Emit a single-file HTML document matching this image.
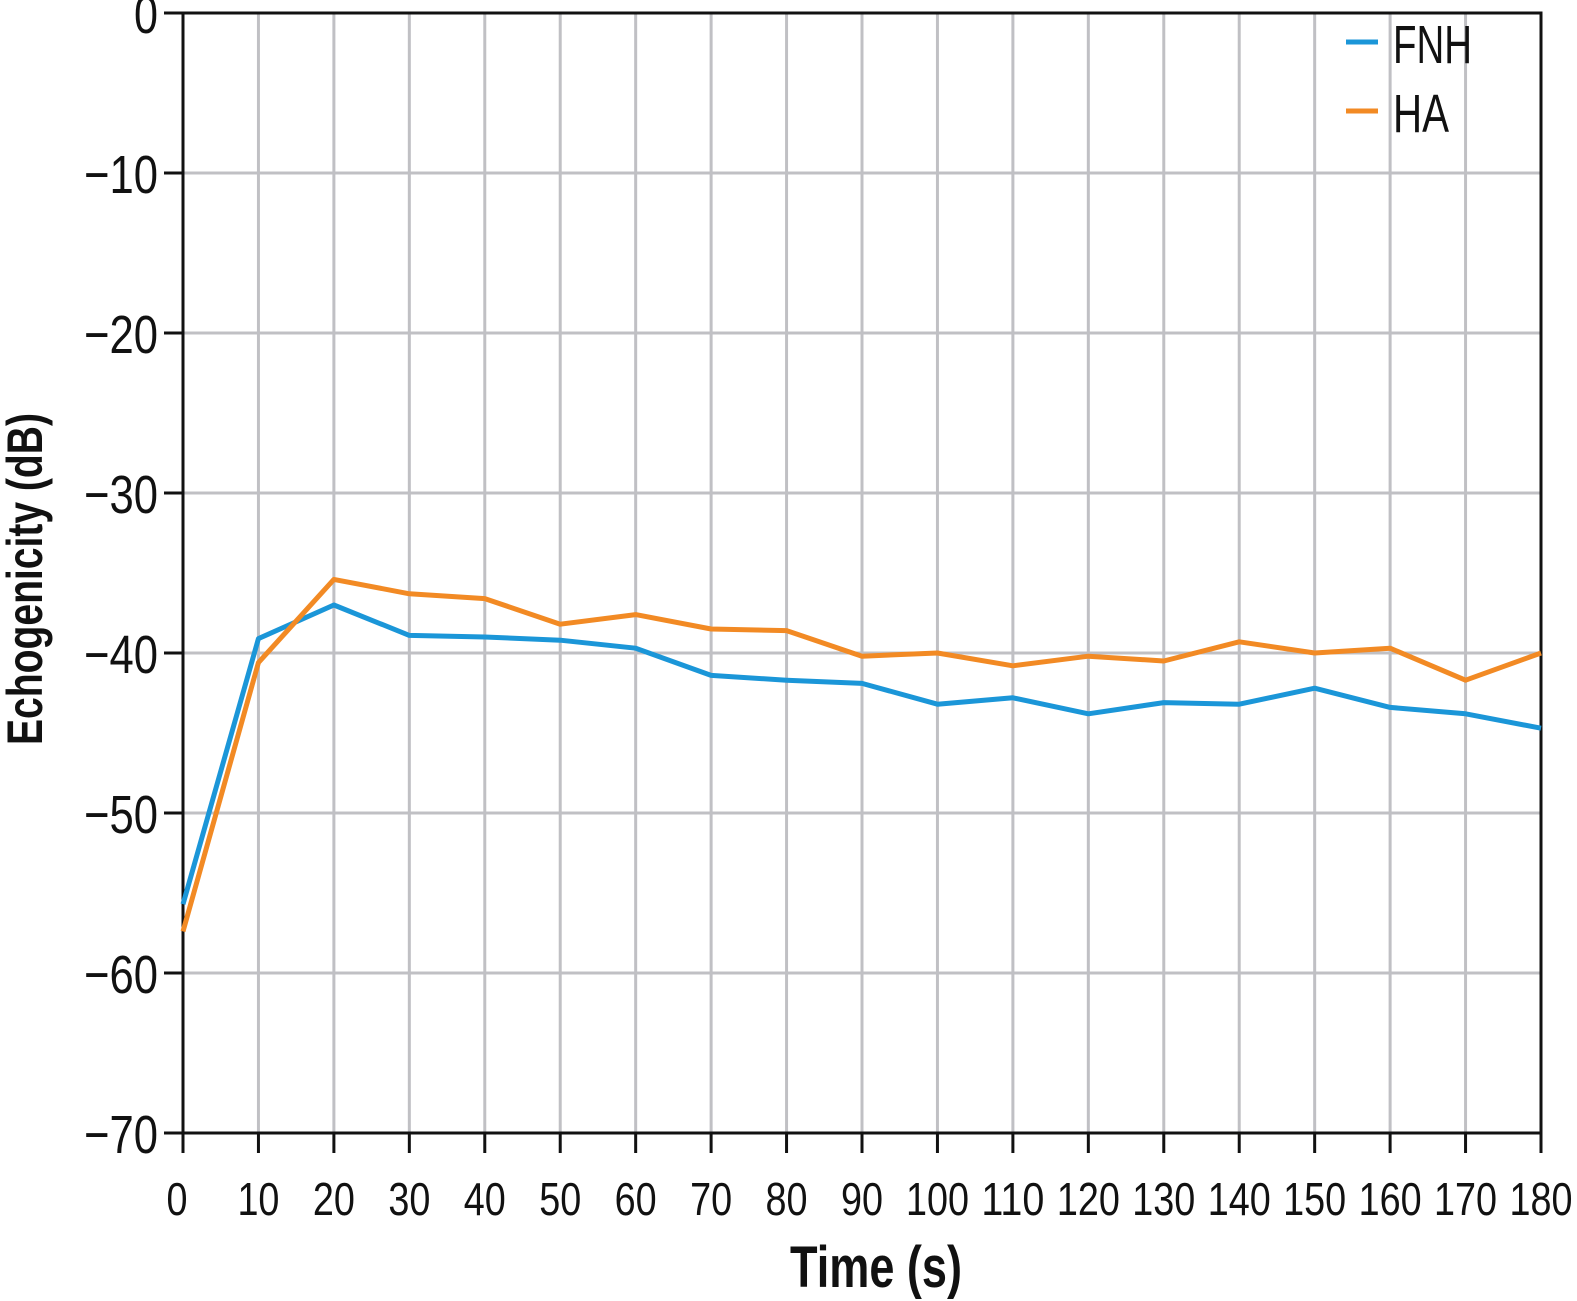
<!DOCTYPE html>
<html><head><meta charset="utf-8"><style>
html,body{margin:0;padding:0;background:#fff;overflow:hidden;width:1577px;height:1301px;}
svg{display:block;font-family:"Liberation Sans Narrow","Liberation Sans",sans-serif;}
</style></head><body>
<svg id="chart" width="1577" height="1301" viewBox="0 0 1577 1301">
<g id="grid"></g>
<g id="axes"></g>
<g id="series"></g>
<text x="876" y="1287" text-anchor="middle" font-size="58" font-weight="bold" fill="#111" textLength="172" lengthAdjust="spacingAndGlyphs">Time (s)</text>
<text transform="translate(42,579) rotate(-90)" text-anchor="middle" font-size="50" font-weight="bold" fill="#111" textLength="332" lengthAdjust="spacingAndGlyphs">Echogenicity (dB)</text>
<g>
<line x1="1346" y1="42" x2="1378" y2="42" stroke="#1b96d8" stroke-width="5"/>
<text x="1393" y="63" font-size="54" fill="#111" textLength="79" lengthAdjust="spacingAndGlyphs">FNH</text>
<line x1="1346" y1="111" x2="1378" y2="111" stroke="#f28a24" stroke-width="5"/>
<text x="1393" y="132" font-size="54" fill="#111" textLength="56" lengthAdjust="spacingAndGlyphs">HA</text>
</g>
</svg>
<script>
const times=[0,10,20,30,40,50,60,70,80,90,100,110,120,130,140,150,160,170,180];
const fnh=[-55.7,-39.1,-37.0,-38.9,-39.0,-39.2,-39.7,-41.4,-41.7,-41.9,-43.2,-42.8,-43.8,-43.1,-43.2,-42.2,-43.4,-43.8,-44.7];
const ha=[-57.4,-40.6,-35.4,-36.3,-36.6,-38.2,-37.6,-38.5,-38.6,-40.2,-40.0,-40.8,-40.2,-40.5,-39.3,-40.0,-39.7,-41.7,-40.0];
const xTicks=[0,10,20,30,40,50,60,70,80,90,100,110,120,130,140,150,160,170,180];
const yTicks=[0,-10,-20,-30,-40,-50,-60,-70];
const NS='http://www.w3.org/2000/svg';
const X0=183,X1=1541,Y0=13,Y1=1133;
function xs(v){return X0+(v-0)/(180-0)*(X1-X0);}
function ys(v){return Y0+(0-v)/(0-(-70))*(Y1-Y0);}
function mk(t,a,p){const e=document.createElementNS(NS,t);for(const k in a)e.setAttribute(k,a[k]);p.appendChild(e);return e;}
const grid=document.getElementById('grid'),axes=document.getElementById('axes'),ser=document.getElementById('series');
xTicks.forEach(t=>{
  if(t>0){const g=mk('line',{x1:xs(t),x2:xs(t),y1:Y0,y2:Y1,stroke:'#c0c0c4','stroke-width':3},grid);
  
  }
  const tk=mk('line',{x1:xs(t),x2:xs(t),y1:Y1,y2:Y1+20,stroke:'#111','stroke-width':3},axes);
  
  
  const s=String(t);
  const lb=mk('text',{x:xs(t)-(t===0?6:0),y:1215,'text-anchor':'middle','font-size':46,fill:'#111',textLength:s.length*21,lengthAdjust:'spacingAndGlyphs'},axes);
  
  
  lb.textContent=s;
});
yTicks.forEach(t=>{
  if(t<0&&t>-70){const g=mk('line',{x1:X0,x2:X1,y1:ys(t),y2:ys(t),stroke:'#c0c0c4','stroke-width':3},grid);
  
  }
  const tk=mk('line',{x1:X0-19,x2:X0,y1:ys(t),y2:ys(t),stroke:'#111','stroke-width':3},axes);
  
  
  const s=t<0?'\u2212'+Math.abs(t):String(t);
  const lb=mk('text',{x:158,y:ys(t)+20,'text-anchor':'end','font-size':54,fill:'#111',textLength:t<0?74:24,lengthAdjust:'spacingAndGlyphs'},axes);
  
  
  lb.textContent=s;
});
const b=mk('rect',{x:X0,y:Y0,width:X1-X0,height:Y1-Y0,fill:'none',stroke:'#111','stroke-width':3},axes);


function line(vals,color,name){
  const p=mk('polyline',{points:vals.map((v,i)=>xs(times[i])+','+ys(v)).join(' '),fill:'none',stroke:color,'stroke-width':5,'stroke-linejoin':'round'},ser);
  
  
}
line(fnh,'#1b96d8','fnh-line');
line(ha,'#f28a24','ha-line');
</script>
</body></html>
